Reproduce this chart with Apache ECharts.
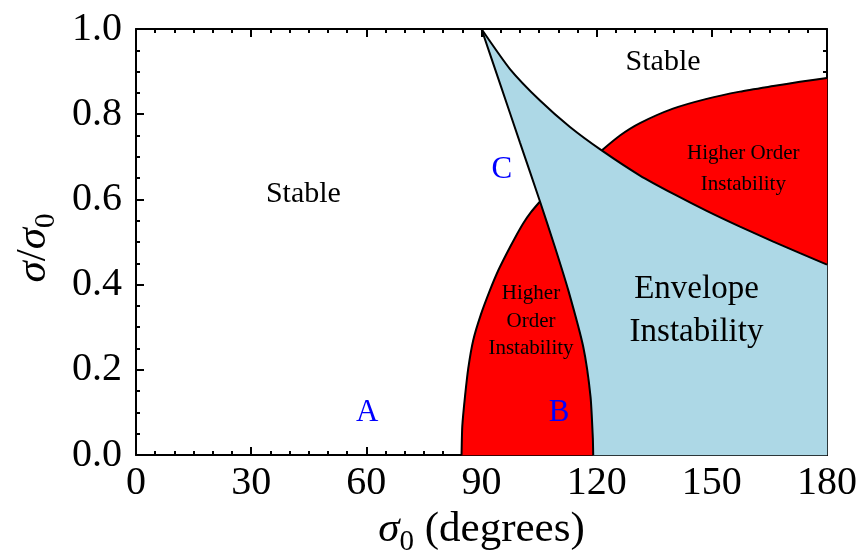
<!DOCTYPE html>
<html><head><meta charset="utf-8">
<script src="https://cdn.jsdelivr.net/npm/echarts@6/dist/echarts.min.js"></script>
<style>html,body{margin:0;padding:0;background:#fff}#c{width:865px;height:553px}</style>
</head><body><div id="c"></div>
<script>
// ---- data (degrees, sigma/sigma0) ----
const xTickValues = [0, 30, 60, 90, 120, 150, 180];
const yTickValues = [0.0, 0.2, 0.4, 0.6, 0.8, 1.0];
// left boundary of envelope-instability region (apex -> bottom)
const envelopeLeft = [[90,1.0],[95,0.867],[100,0.734],[105.24,0.595],[109.1,0.489],[112.6,0.387],[116.5,0.254],[118.4,0.137],[119.0,0.04],[119.1,0]];
// upper boundary of envelope-instability region (apex -> right edge)
const envelopeTop = [[90,1.0],[97.42,0.906],[105.24,0.832],[113.05,0.770],[121.3,0.715],[131.28,0.656],[140.4,0.611],[148.66,0.573],[157.33,0.536],[166.0,0.501],[172.96,0.474],[180,0.447]];
// higher-order instability arcs
const lowerOrderArc = [[84.8,0],[85.0,0.068],[85.7,0.137],[86.56,0.204],[87.86,0.270],[89.81,0.329],[92.21,0.387],[94.30,0.432],[96.56,0.473],[98.67,0.509],[100.89,0.544],[102.89,0.570],[105.24,0.595]];
const upperOrderArc = [[121.3,0.715],[126.07,0.750],[131.28,0.779],[139.88,0.813],[148.66,0.836],[157.33,0.853],[166.0,0.866],[172.96,0.876],[180,0.885]];
const plotCorner = [180, 0];
// annotations
const regionLabels = ['Stable', 'Stable', 'Envelope\nInstability', 'Higher\nOrder\nInstability', 'Higher Order\nInstability'];
const regionLabelAt = [[43.6,0.612],[137.3,0.923],[146,0.339],[102.9,0.314],[158.2,0.671]];
const pointLabels = ['A', 'B', 'C'];
const pointLabelAt = [[60.2,0.099],[110.2,0.1],[95.3,0.669]];

// ---- polygons built from the boundaries ----
const bluePoly = envelopeTop.concat([plotCorner]).concat(envelopeLeft.slice().reverse());
const lowerRedPoly = lowerOrderArc.concat(envelopeLeft.filter(p => p[1] < 0.595));
const upperRedPoly = upperOrderArc.concat(envelopeTop.filter(p => p[0] >= 121.3).reverse());

const SERIF = "'Liberation Serif','DejaVu Serif',serif";

function polySeries(points, color) {
  return {
    type: 'custom', coordinateSystem: 'cartesian2d', xAxisIndex: 0, yAxisIndex: 0,
    silent: true, data: [[0, 0]], z: 1,
    renderItem: (params, api) => ({
      type: 'polygon',
      shape: { points: points.map(p => api.coord(p)) },
      style: { fill: color, stroke: color, lineWidth: 0.5 }
    })
  };
}
function lineSeries(points) {
  return {
    type: 'line', data: points, symbol: 'none', smooth: 0.2, silent: true, z: 3,
    lineStyle: { color: '#000', width: 2 }
  };
}
const textStyles = [
  { font: '30px ' + SERIF, lh: 36 },
  { font: '30px ' + SERIF, lh: 36 },
  { font: '33px ' + SERIF, lh: 43 },
  { font: '21px ' + SERIF, lh: 27.5 },
  { font: '21px ' + SERIF, lh: 31.5 }
];
const textSeries = {
  type: 'custom', coordinateSystem: 'cartesian2d', silent: true, z: 5,
  data: regionLabelAt.map((p, i) => [p[0], p[1], i]),
  renderItem: (params, api) => {
    const i = params.dataIndex;
    const pt = api.coord([api.value(0), api.value(1)]);
    return { type: 'text', x: pt[0], y: pt[1],
      style: { text: regionLabels[i], font: textStyles[i].font, lineHeight: textStyles[i].lh,
               fill: '#000', align: 'center', verticalAlign: 'middle' } };
  }
};
const letterSeries = {
  type: 'custom', coordinateSystem: 'cartesian2d', silent: true, z: 5,
  data: pointLabelAt.map((p, i) => [p[0], p[1], i]),
  renderItem: (params, api) => {
    const i = params.dataIndex;
    const pt = api.coord([api.value(0), api.value(1)]);
    return { type: 'text', x: pt[0], y: pt[1],
      style: { text: pointLabels[i], font: '31px ' + SERIF, fill: '#0000ff', align: 'center', verticalAlign: 'middle' } };
  }
};

const tickLine = { color: '#000', width: 2 };
function xAxisDef(pos, showLabel) {
  return {
    type: 'value', position: pos, min: 0, max: 180, interval: 30,
    axisLine: { show: true, onZero: false, lineStyle: { color: '#000', width: 2 } },
    axisTick: { show: true, inside: true, length: 8, lineStyle: tickLine },
    minorTick: { show: true, splitNumber: 6, length: 4, lineStyle: tickLine },
    splitLine: { show: false }, minorSplitLine: { show: false },
    axisLabel: { show: showLabel, fontFamily: SERIF, fontSize: 40, color: '#000', margin: 8,
                 showMinLabel: true, showMaxLabel: true, hideOverlap: false,
                 formatter: v => xTickValues.includes(v) ? String(v) : '' },
    name: showLabel ? '{i|σ}{s|0} (degrees)' : '', nameLocation: 'middle', nameGap: 44,
    nameTextStyle: { fontFamily: SERIF, fontSize: 43, color: '#000',
      rich: { i: { fontFamily: SERIF, fontStyle: 'italic', fontSize: 43, color: '#000' },
              s: { fontFamily: SERIF, fontSize: 29, color: '#000', verticalAlign: 'bottom', padding: [0, 0, -6, 0] } } }
  };
}
function yAxisDef(pos, showLabel) {
  return {
    type: 'value', position: pos, min: 0, max: 1, interval: 0.2,
    axisLine: { show: true, onZero: false, lineStyle: { color: '#000', width: 2 } },
    axisTick: { show: true, inside: true, length: 8, lineStyle: tickLine },
    minorTick: { show: true, splitNumber: 4, length: 4, lineStyle: tickLine },
    splitLine: { show: false }, minorSplitLine: { show: false },
    axisLabel: { show: showLabel, fontFamily: SERIF, fontSize: 40, color: '#000', margin: 14,
                 showMinLabel: true, showMaxLabel: true, hideOverlap: false,
                 formatter: v => yTickValues.some(t => Math.abs(t - v) < 1e-9) ? v.toFixed(1) : '' },
    name: showLabel ? '{i|σ}/{i|σ}{s|0}' : '', nameLocation: 'middle', nameGap: 80,
    nameTextStyle: { fontFamily: SERIF, fontSize: 43, color: '#000', padding: [0, 12, 0, 0],
      rich: { i: { fontFamily: SERIF, fontStyle: 'italic', fontSize: 43, color: '#000' },
              s: { fontFamily: SERIF, fontSize: 29, color: '#000', verticalAlign: 'bottom', padding: [0, 0, -6, 0] } } }
  };
}

const chart = echarts.init(document.getElementById('c'), null, { renderer: 'canvas' });
chart.setOption({
  animation: false,
  backgroundColor: '#fff',
  grid: { left: 136, right: 38, top: 29, bottom: 98, containLabel: false, outerBoundsMode: 'none', show: false },
  xAxis: [xAxisDef('bottom', true), xAxisDef('top', false)],
  yAxis: [yAxisDef('left', true), yAxisDef('right', false)],
  series: [
    polySeries(bluePoly, '#add8e6'),
    polySeries(lowerRedPoly, '#ff0000'),
    polySeries(upperRedPoly, '#ff0000'),
    lineSeries(envelopeLeft),
    lineSeries(envelopeTop),
    lineSeries(lowerOrderArc),
    lineSeries(upperOrderArc),
    textSeries,
    letterSeries
  ]
});
</script></body></html>
